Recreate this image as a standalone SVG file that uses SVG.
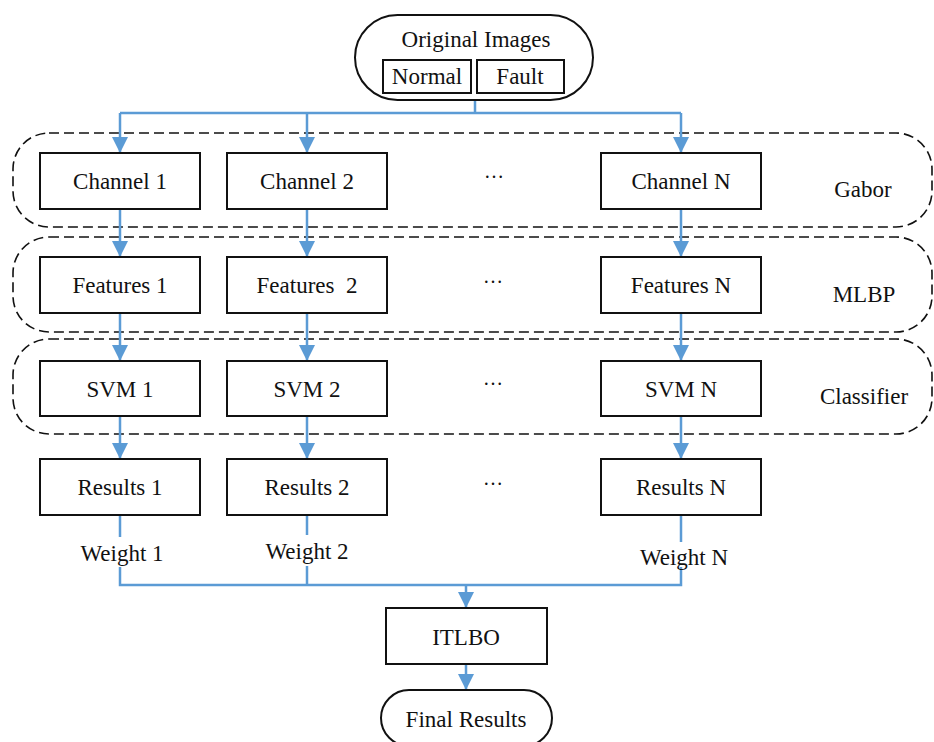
<svg xmlns="http://www.w3.org/2000/svg" width="934" height="742" viewBox="0 0 934 742">
<style>
text{font-family:"Liberation Serif","Times New Roman",serif;font-size:23px;fill:#111;text-anchor:middle}
.box{fill:#fff;stroke:#111;stroke-width:2}
.grp{fill:none;stroke:#111;stroke-width:1.6;stroke-dasharray:10 5}
.c{fill:none;stroke:#5B9BD5;stroke-width:2.5}
.dots{font-size:20px}
</style>
<defs>
<marker id="ah" markerUnits="userSpaceOnUse" markerWidth="16" markerHeight="16" refX="16" refY="8" orient="auto">
<path d="M0,0 L16,8 L0,16 Z" fill="#5B9BD5"/>
</marker>
</defs>
<g id="groups">
<rect id="gabor" class="grp" x="13" y="133" width="919" height="94" rx="36"/>
<rect id="mlbp" class="grp" x="13" y="237" width="919" height="95" rx="36"/>
<rect id="classifier" class="grp" x="13" y="339" width="919" height="95" rx="36"/>
<text x="863" y="197">Gabor</text>
<text x="864" y="302">MLBP</text>
<text x="864" y="404">Classifier</text>
</g>
<g id="connectors">
<path class="c" d="M475,100 V113 M120,113 H681"/>
<path class="c" d="M120,113 V153" marker-end="url(#ah)"/>
<path class="c" d="M307,113 V153" marker-end="url(#ah)"/>
<path class="c" d="M681,113 V153" marker-end="url(#ah)"/>
<path class="c" d="M120,209 V257" marker-end="url(#ah)"/>
<path class="c" d="M307,209 V257" marker-end="url(#ah)"/>
<path class="c" d="M681,209 V257" marker-end="url(#ah)"/>
<path class="c" d="M120,313 V361" marker-end="url(#ah)"/>
<path class="c" d="M307,313 V361" marker-end="url(#ah)"/>
<path class="c" d="M681,313 V361" marker-end="url(#ah)"/>
<path class="c" d="M120,416 V459" marker-end="url(#ah)"/>
<path class="c" d="M307,416 V459" marker-end="url(#ah)"/>
<path class="c" d="M681,416 V459" marker-end="url(#ah)"/>
<path class="c" d="M120,515 V537 M307,515 V535 M681,515 V542"/>
<path class="c" d="M120,567 V585 H681 V567 M307,566 V585"/>
<path class="c" d="M466,585 V608" marker-end="url(#ah)"/>
<path class="c" d="M466,664 V690" marker-end="url(#ah)"/>
</g>
<g id="original">
<rect class="box" x="355" y="15" width="238" height="85" rx="42.5"/>
<text x="476" y="47">Original Images</text>
<rect class="box" x="383" y="60" width="88" height="33" rx="0"/>
<text x="427" y="84">Normal</text>
<rect class="box" x="477" y="60" width="87" height="33"/>
<text x="520" y="84">Fault</text>
</g>
<g id="channel1"><rect class="box" x="40" y="153" width="160" height="56"/><text x="120" y="189">Channel 1</text></g>
<g id="channel2"><rect class="box" x="227" y="153" width="160" height="56"/><text x="307" y="189">Channel 2</text></g>
<g id="channelN"><rect class="box" x="601" y="153" width="160" height="56"/><text x="681" y="189">Channel N</text></g>
<g id="features1"><rect class="box" x="40" y="257" width="160" height="56"/><text x="120" y="293">Features 1</text></g>
<g id="features2"><rect class="box" x="227" y="257" width="160" height="56"/><text x="307" y="293" xml:space="preserve">Features  2</text></g>
<g id="featuresN"><rect class="box" x="601" y="257" width="160" height="56"/><text x="681" y="293">Features N</text></g>
<g id="svm1"><rect class="box" x="40" y="361" width="160" height="55"/><text x="120" y="397">SVM 1</text></g>
<g id="svm2"><rect class="box" x="227" y="361" width="160" height="55"/><text x="307" y="397">SVM 2</text></g>
<g id="svmN"><rect class="box" x="601" y="361" width="160" height="55"/><text x="681" y="397">SVM N</text></g>
<g id="results1"><rect class="box" x="40" y="459" width="160" height="56"/><text x="120" y="495">Results 1</text></g>
<g id="results2"><rect class="box" x="227" y="459" width="160" height="56"/><text x="307" y="495">Results 2</text></g>
<g id="resultsN"><rect class="box" x="601" y="459" width="160" height="56"/><text x="681" y="495">Results N</text></g>
<g id="dots">
<text class="dots" x="494" y="178">…</text>
<text class="dots" x="493" y="283">…</text>
<text class="dots" x="493" y="385">…</text>
<text class="dots" x="493" y="485">…</text>
</g>
<g id="weights">
<text x="122" y="561">Weight 1</text>
<text x="307" y="559">Weight 2</text>
<text x="684" y="565">Weight N</text>
</g>
<g id="itlbo"><rect class="box" x="386" y="608" width="161" height="56"/><text x="466" y="645">ITLBO</text></g>
<g id="final"><rect class="box" x="381" y="690" width="171" height="56" rx="28"/><text x="466" y="727">Final Results</text></g>
</svg>
